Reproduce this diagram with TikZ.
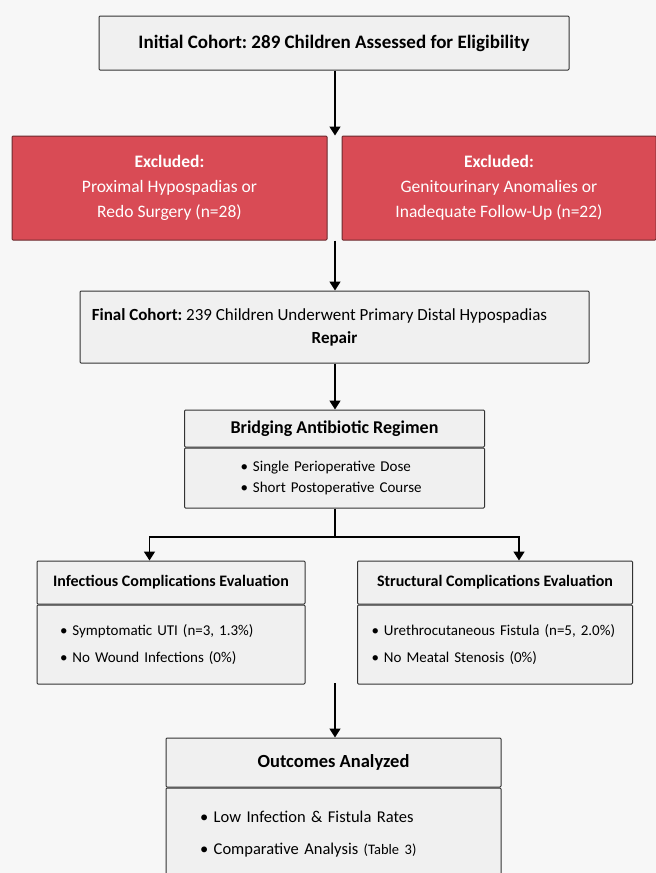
\documentclass[tikz,border=0pt]{standalone}
\usepackage{fontspec}
\setmainfont{Carlito}
\usepackage{tikz}
\usetikzlibrary{positioning, arrows.meta, calc}

\definecolor{pagegray}{HTML}{F7F7F7}
\definecolor{boxgray}{HTML}{F0F0F0}
\definecolor{exred}{HTML}{D94B55}
\definecolor{exborder}{HTML}{6B2A2E}

\begin{document}
\frenchspacing
\begin{tikzpicture}[x=1pt, y=-1pt]
% Styles
\tikzstyle{box} = [rectangle, draw=black!80, line width=1pt, fill=boxgray, inner sep=0pt, align=center, rounded corners=1pt]
\tikzstyle{excluded} = [box, draw=exborder, fill=exred, text=white, font=\fontsize{17.5}{25}\selectfont]
\tikzstyle{header} = [box, font=\bfseries\fontsize{16}{20}\selectfont]
\tikzstyle{body} = [box, align=left, font=\fontsize{15}{21.6}\selectfont]
\tikzstyle{arrow} = [line width=1.6pt, -{Triangle[length=9pt, width=11pt]}]
\tikzstyle{line} = [line width=1.6pt]

\fill[pagegray] (0,0) rectangle (656,873);
\useasboundingbox (0,0) rectangle (656,873);

\node (initial) [box, minimum width=470pt, minimum height=54pt, font=\bfseries\fontsize{19}{22}\selectfont] at (334,43) {Initial Cohort: 289 Children Assessed for Eligibility};

\node (excl_prox) [excluded, minimum width=315pt, minimum height=104pt] at (169.5,188) {\textbf{Excluded:}\\ Proximal Hypospadias or\\ Redo Surgery (n=28)};
\node (excl_geni) [excluded, minimum width=314pt, minimum height=104pt] at (499,188) {\textbf{Excluded:}\\ Genitourinary Anomalies or\\ Inadequate Follow-Up (n=22)};

\node (final) [box, minimum width=509pt, minimum height=72pt, font=\fontsize{17}{23}\selectfont] at (334.5,327) {\textbf{Final Cohort:} 239 Children Underwent Primary Distal Hypospadias\hspace*{30pt}\\ \textbf{Repair}};

\node (regimen) [header, minimum width=300pt, minimum height=37pt, font=\bfseries\fontsize{18}{20}\selectfont] at (334.5,428.5) {Bridging Antibiotic Regimen};
\node (regimen_body) [body, below=0pt of regimen, text width=188pt, inner xsep=56pt, minimum height=60pt] {\textbullet\ Single Perioperative Dose\\ \textbullet\ Short Postoperative Course};

\node (infect) [header, minimum width=268pt, minimum height=43pt] at (171,582.5) {Infectious Complications Evaluation};
\node (infect_body) [body, below=0pt of infect, text width=222pt, inner xsep=23pt, minimum height=79pt, font=\fontsize{15}{26.5}\selectfont] {\textbullet\ Symptomatic UTI (n=3, 1.3\%)\\ \textbullet\ No Wound Infections (0\%)};

\node (struct) [header, minimum width=275pt, minimum height=43pt] at (495,582.5) {Structural Complications Evaluation};
\node (struct_body) [body, below=0pt of struct, text width=247pt, inner xsep=14pt, minimum height=79pt, font=\fontsize{15}{26.5}\selectfont] {\textbullet\ Urethrocutaneous Fistula (n=5, 2.0\%)\\ \textbullet\ No Meatal Stenosis (0\%)};

\node (outcomes) [header, minimum width=335pt, minimum height=49pt, font=\bfseries\fontsize{18.5}{22}\selectfont] at (333.5,762.5) {Outcomes Analyzed};
\node (outcomes_body) [body, below=0pt of outcomes, text width=267pt, inner xsep=34pt, minimum height=93pt, font=\fontsize{16.5}{32}\selectfont] {\textbullet\ Low Infection \& Fistula Rates\\ \textbullet\ Comparative Analysis {\fontsize{14.5}{32}\selectfont(Table 3)}};

\coordinate (split) at (335,537);
\coordinate (merge) at (335,683);

\draw [arrow] (initial.south -| split) -- (excl_prox.north -| split);
\draw [arrow] (excl_prox.south -| split) -- (final.north -| split);
\draw [arrow] (final.south -| split) -- (regimen.north -| split);
\draw [line] (regimen_body.south -| split) -- (split);
\draw [arrow] (split) -| ($(infect.north west)!0.42!(infect.north east)$);
\draw [arrow] (split) -| ($(struct.north west)!0.587!(struct.north east)$);
\draw [arrow] (merge) -- (outcomes.north -| merge);

\end{tikzpicture}
\end{document}
